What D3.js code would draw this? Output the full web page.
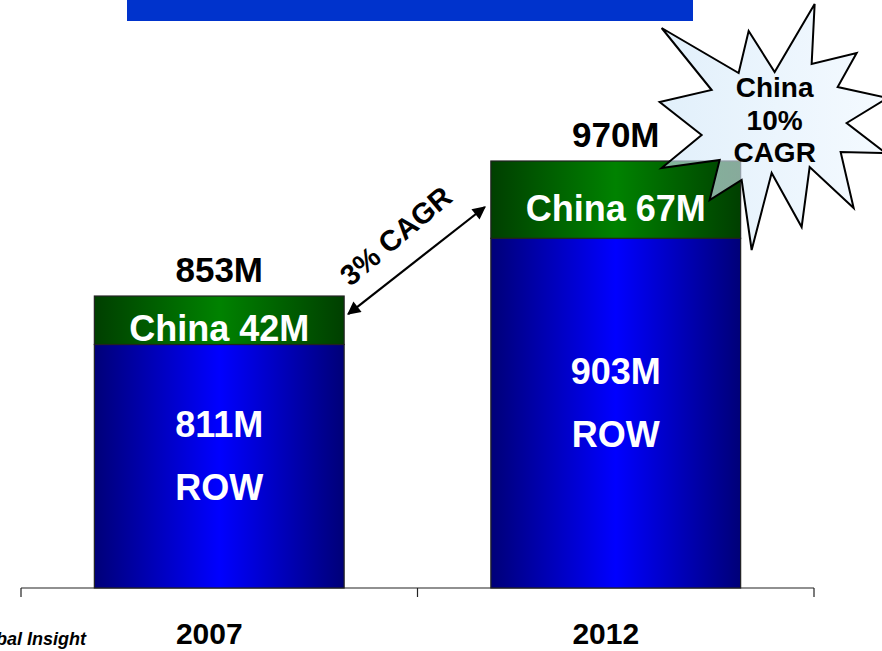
<!DOCTYPE html>
<html>
<head>
<meta charset="utf-8">
<script src="https://cdn.jsdelivr.net/npm/d3@7"></script>
<style>
  body { margin: 0; background: #fff; }
  svg { display: block; font-family: Arial, 'Liberation Sans', sans-serif; font-weight: bold; }
</style>
</head>
<body>
<svg width="882" height="651"></svg>
<script>
// chart data
const years = ['2007', '2012']
const rowValues = [811, 903]
const chinaValues = [42, 67]
const cagrLabel = '3% CAGR'
const burstLines = ['China', '10%', 'CAGR']
const sourceNote = 'Source: Global Insight'

const width = 882
const height = 651

const svg = d3.select('svg')
const defs = svg.append('defs')

// horizontal gradients like the powerpoint bars
const addGradient = (id, edge, mid) => {
  const g = defs.append('linearGradient').attr('id', id).attr('x1', '0%').attr('x2', '100%')
  g.append('stop').attr('offset', '0%').attr('stop-color', edge)
  g.append('stop').attr('offset', '50%').attr('stop-color', mid)
  g.append('stop').attr('offset', '100%').attr('stop-color', edge)
}
addGradient('rowGrad', '#000078', '#0000ff')
addGradient('chinaGrad', '#003f00', '#008200')
const burstGrad = defs.append('linearGradient').attr('id', 'burstGrad').attr('x1', '0%').attr('x2', '100%')
burstGrad.append('stop').attr('offset', '0%').attr('stop-color', '#cfe6f8')
burstGrad.append('stop').attr('offset', '100%').attr('stop-color', '#eef7ff')

// title banner (mostly cropped off the top)
svg.append('rect').attr('x', 127).attr('y', 0).attr('width', 566).attr('height', 21).attr('fill', '#0033cc')

const data = years.map((year, i) => ({
  year,
  row: rowValues[i],
  china: chinaValues[i],
  total: rowValues[i] + chinaValues[i]
}))

// scales - value axis does not start at zero in the original
const x = d3.scaleBand().domain(years).range([21, 814]).paddingInner(0.37).paddingOuter(0.185)
const y = d3.scaleLinear().domain([600, 970]).range([588, 161])

// baseline axis with ticks between categories
const axisY = y(600)
svg.append('line')
  .attr('x1', x.range()[0]).attr('x2', x.range()[1])
  .attr('y1', axisY).attr('y2', axisY)
  .attr('stroke', '#222').attr('stroke-width', 1.2)
svg.selectAll('.tick')
  .data(d3.range(years.length + 1))
  .join('line')
  .attr('x1', (i) => x.range()[0] + i * x.step())
  .attr('x2', (i) => x.range()[0] + i * x.step())
  .attr('y1', axisY).attr('y2', axisY + 9)
  .attr('stroke', '#222').attr('stroke-width', 1.2)

svg.selectAll('.year')
  .data(data)
  .join('text')
  .attr('x', (d) => x(d.year) + x.bandwidth() / 2 - 10)
  .attr('y', 644)
  .attr('text-anchor', 'middle')
  .style('font-size', '30px')
  .attr('fill', '#000')
  .text((d) => d.year)

// bars
const bars = svg.selectAll('.bar').data(data).join('g')

bars.append('rect')
  .attr('x', (d) => x(d.year))
  .attr('y', (d) => y(d.row))
  .attr('width', x.bandwidth())
  .attr('height', (d) => axisY - y(d.row))
  .attr('fill', 'url(#rowGrad)')
  .attr('stroke', '#222').attr('stroke-width', 1.2)

bars.append('rect')
  .attr('x', (d) => x(d.year))
  .attr('y', (d) => y(d.total))
  .attr('width', x.bandwidth())
  .attr('height', (d) => y(d.row) - y(d.total))
  .attr('fill', 'url(#chinaGrad)')
  .attr('stroke', '#222').attr('stroke-width', 1.2)

bars.append('text')
  .attr('x', (d) => x(d.year) + x.bandwidth() / 2)
  .attr('y', (d) => (y(d.row) + y(d.total)) / 2 + 21)
  .attr('text-anchor', 'middle')
  .style('font-size', '36px')
  .attr('fill', '#fff')
  .text((d) => `China ${d.china}M`)

bars.append('text')
  .attr('x', (d) => x(d.year) + x.bandwidth() / 2)
  .attr('y', (d) => (y(d.row) + axisY) / 2 - 29)
  .attr('text-anchor', 'middle')
  .style('font-size', '36px')
  .attr('fill', '#fff')
  .text((d) => `${d.row}M`)

bars.append('text')
  .attr('x', (d) => x(d.year) + x.bandwidth() / 2)
  .attr('y', (d) => (y(d.row) + axisY) / 2 + 34)
  .attr('text-anchor', 'middle')
  .style('font-size', '36px')
  .attr('fill', '#fff')
  .text('ROW')

bars.append('text')
  .attr('x', (d) => x(d.year) + x.bandwidth() / 2)
  .attr('y', (d) => y(d.total) - 14)
  .attr('text-anchor', 'middle')
  .style('font-size', '35px')
  .attr('fill', '#000')
  .text((d) => `${d.total}M`)

// growth arrow between the bar tops
const a0 = [x(years[0]) + x.bandwidth() + 4, y(data[0].total) + 18]
const a1 = [x(years[1]) - 6, y(data[1].total) + 46]
const marker = (id, orient) => {
  defs.append('marker')
    .attr('id', id)
    .attr('viewBox', '0 0 10 10')
    .attr('refX', 9).attr('refY', 5)
    .attr('markerWidth', 7).attr('markerHeight', 6)
    .attr('orient', orient)
    .append('path').attr('d', 'M0,0L10,5L0,10z').attr('fill', '#000')
}
marker('arrowEnd', 'auto')
marker('arrowStart', 'auto-start-reverse')
svg.append('line')
  .attr('x1', a0[0]).attr('y1', a0[1])
  .attr('x2', a1[0]).attr('y2', a1[1])
  .attr('stroke', '#000').attr('stroke-width', 2.2)
  .attr('marker-start', 'url(#arrowStart)')
  .attr('marker-end', 'url(#arrowEnd)')

const angle = Math.atan2(a1[1] - a0[1], a1[0] - a0[0]) * 180 / Math.PI
svg.append('text')
  .attr('transform', `translate(${(a0[0] + a1[0]) / 2},${(a0[1] + a1[1]) / 2}) rotate(${angle - 2})`)
  .attr('y', -22)
  .attr('text-anchor', 'middle')
  .style('font-size', '29px')
  .attr('fill', '#000')
  .text(cagrLabel)

// starburst callout, outline offsets from its centre
const burstCenter = [x(years[1]) + x.bandwidth() + 33, y(data[1].total) - 36]
const burstShape = [
  [-22, 125], [-32, 55], [-64, 75], [-54, 35], [-112, 43], [-72, 10], [-114, -23], [-62, -35],
  [-112, -97], [-35, -52], [-25, -94], [1, -53], [41, -121], [38, -61], [83, -72], [64, -38],
  [114, -27], [73, -2], [112, 28], [67, 27], [80, 83], [36, 42], [28, 102], [-2, 48]
]
svg.append('polygon')
  .attr('points', burstShape.map((p) => [burstCenter[0] + p[0], burstCenter[1] + p[1]].join(',')).join(' '))
  .attr('fill', 'url(#burstGrad)')
  .attr('fill-opacity', 0.62)
  .attr('stroke', '#000')
  .attr('stroke-width', 2)
  .attr('stroke-linejoin', 'miter')

svg.selectAll('.burstText')
  .data(burstLines)
  .join('text')
  .attr('x', burstCenter[0] + 1)
  .attr('y', (d, i) => burstCenter[1] - 28 + i * 32.5)
  .attr('text-anchor', 'middle')
  .style('font-size', '28px')
  .attr('fill', '#000')
  .text((d) => d)

// source note, cut off at the left edge as in the original slide
svg.append('text')
  .attr('x', 86).attr('y', 645)
  .attr('text-anchor', 'end')
  .style('font-size', '18px')
  .style('font-style', 'italic')
  .attr('fill', '#000')
  .text(sourceNote)
</script>
</body>
</html>
